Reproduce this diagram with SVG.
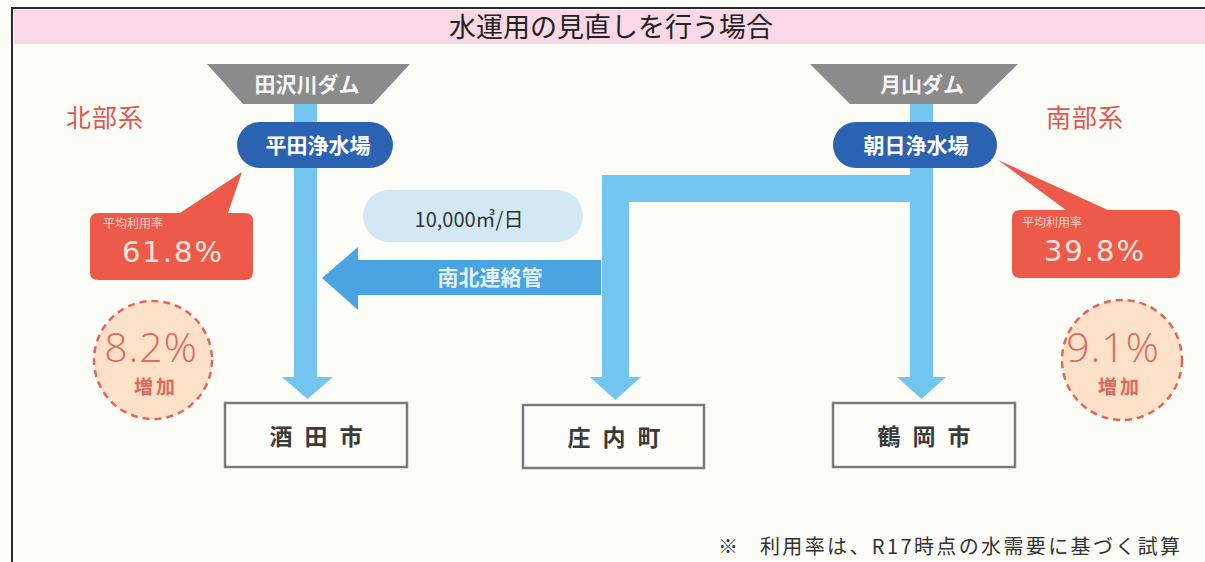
<svg xmlns="http://www.w3.org/2000/svg" width="1205" height="562" viewBox="0 0 1205 562">
<style>
.jp{font-family:"Noto Sans CJK JP","Noto Sans",sans-serif}
.num{font-family:"DejaVu Sans","Noto Sans",sans-serif}
.pipe{fill:#72c5ef}
.link{fill:#49a4e1}
.dam{fill:#8b8b8b}
.damt{font-size:21px;font-weight:700;fill:#f5f5f5;text-anchor:middle}
.pill{fill:#2c62b2}
.pillt{font-size:21px;font-weight:700;fill:#ffffff;text-anchor:middle}
.call{fill:#ee5a4a}
.callsm{font-size:12px;fill:#fcd6cc}
.callbig{font-size:29px;fill:#fde8de;text-anchor:middle;letter-spacing:2px}
.circ{fill:#fde2c9;stroke:#e2675a;stroke-width:2.5;stroke-dasharray:7 5}
.circnum{font-family:"Open Sans","DejaVu Sans",sans-serif;font-weight:300;font-size:41px;fill:#e0695b;text-anchor:middle;letter-spacing:1px}
.circsub{font-size:19px;font-weight:700;fill:#e0695b;text-anchor:middle;letter-spacing:3px}
.box{fill:#fdfdf9;stroke:#7b7b7b;stroke-width:2.5}
.boxt{font-size:23px;font-weight:700;fill:#3b3b3b;text-anchor:middle;letter-spacing:12px}
.sys{font-size:25px;fill:#e2574a;letter-spacing:1px}
.note{font-size:20px;fill:#333}
</style>
<rect x="0" y="0" width="1205" height="562" fill="#fdfdf8"/>
<g id="frame">
<path d="M12,562 V8 H1205" fill="none" stroke="#2a2a2a" stroke-width="2"/>
<rect x="14" y="10" width="1191" height="34" fill="#fbd8e6"/>
<text class="jp" x="611" y="37" font-size="27" fill="#222" text-anchor="middle">水運用の見直しを行う場合</text>
</g>
<g id="connectors">
<rect class="pipe" x="294" y="100" width="23" height="278"/>
<polygon class="pipe" points="282,377 333,377 307.5,399"/>
<rect class="pipe" x="910" y="100" width="23" height="278"/>
<polygon class="pipe" points="897,377 946,377 921.5,399"/>
<rect class="pipe" x="602" y="175" width="320" height="27"/>
<rect class="pipe" x="602" y="175" width="27" height="203"/>
<polygon class="pipe" points="590,377 641,377 615.5,400"/>
<polygon class="link" points="601,260 358,260 358,247 322,278 358,310 358,295 601,295"/>
<text class="jp" x="490" y="285" font-size="21" font-weight="700" fill="#e3f2fb" text-anchor="middle">南北連絡管</text>
</g>
<g id="flow-label">
<rect x="363" y="190" width="220" height="52" rx="26" fill="#d2e8f4"/>
<text class="jp" x="469" y="227" font-size="20" fill="#333" text-anchor="middle">10,000㎥/日</text>
</g>
<g id="dam-tazawa">
<polygon class="dam" points="207,64 410,64 373,104 243,104"/>
<text class="jp damt" x="307" y="92">田沢川ダム</text>
</g>
<g id="dam-gassan">
<polygon class="dam" points="810,64 1018,64 977,104 850,104"/>
<text class="jp damt" x="922" y="92">月山ダム</text>
</g>
<g id="plant-hirata">
<rect class="pill" x="237" y="122" width="156" height="46" rx="23"/>
<text class="jp pillt" x="318" y="153">平田浄水場</text>
</g>
<g id="plant-asahi">
<rect class="pill" x="833" y="122" width="164" height="46" rx="23"/>
<text class="jp pillt" x="916" y="153">朝日浄水場</text>
</g>
<g id="label-north"><text class="jp sys" x="66" y="127">北部系</text></g>
<g id="label-south"><text class="jp sys" x="1046" y="127">南部系</text></g>
<g id="rate-north">
<path class="call" d="M98,213 H180 L242,172 L228,213 H245 Q253,213 253,221 V272 Q253,280 245,280 H98 Q90,280 90,272 V221 Q90,213 98,213 Z"/>
<text class="jp callsm" x="103" y="228">平均利用率</text>
<text class="num callbig" x="173" y="262">61.8%</text>
</g>
<g id="rate-south">
<path class="call" d="M1020,210 H1066 L998,160 L1108,210 H1172 Q1180,210 1180,218 V270 Q1180,278 1172,278 H1020 Q1012,278 1012,270 V218 Q1012,210 1020,210 Z"/>
<text class="jp callsm" x="1022" y="227">平均利用率</text>
<text class="num callbig" x="1095" y="261">39.8%</text>
</g>
<g id="increase-north">
<circle class="circ" cx="153" cy="360" r="59"/>
<text class="circnum" x="151" y="362">8.2%</text>
<text class="jp circsub" x="156" y="394">増加</text>
</g>
<g id="increase-south">
<circle class="circ" cx="1122" cy="360" r="60"/>
<text class="circnum" x="1113" y="362">9.1%</text>
<text class="jp circsub" x="1120" y="394">増加</text>
</g>
<g id="city-sakata">
<rect class="box" x="225" y="403" width="182" height="64"/>
<text class="jp boxt" x="322" y="445">酒田市</text>
</g>
<g id="town-shonai">
<rect class="box" x="523" y="405" width="181" height="63"/>
<text class="jp boxt" x="620" y="446">庄内町</text>
</g>
<g id="city-tsuruoka">
<rect class="box" x="833" y="403" width="182" height="64"/>
<text class="jp boxt" x="930" y="445">鶴岡市</text>
</g>
<g id="footnote">
<text class="jp note" x="718" y="554">※<tspan x="760" textLength="420" lengthAdjust="spacing">利用率は、R17時点の水需要に基づく試算</tspan></text>
</g>
</svg>
